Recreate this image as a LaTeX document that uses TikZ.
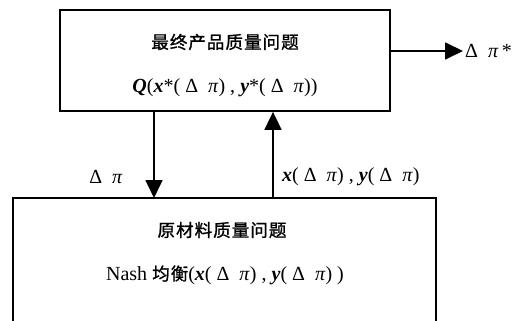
\documentclass[tikz,border=0pt]{standalone}
\usepackage{fontspec}
\setmainfont{Liberation Serif}
\newfontfamily\cjkfam[LetterSpace=6,FakeBold=1.2]{Noto Sans CJK SC}
\newcommand{\cjk}{\cjkfam\fontsize{17.5}{20}\selectfont}
\newcommand{\vb}[1]{\textbf{\textit{#1}}}
\usetikzlibrary{arrows.meta}
\begin{document}
\begin{tikzpicture}[x=1pt,y=-1pt,
  box/.style={draw,line width=1.8pt,inner sep=0pt},
  conn/.style={line width=1.8pt,-{Triangle[length=18pt,width=17pt]}},
  lbl/.style={font=\fontsize{20}{22}\selectfont,inner sep=0pt}]
\useasboundingbox (0,0) rectangle (520,321);
\node[box,minimum width=330pt,minimum height=101pt] (top) at (225,60.5) {};
\draw[line width=1.8pt] (13,340) -- (13,198) -- (436,198) -- (436,340);
\coordinate (botL) at (154,198);
\coordinate (botR) at (273,198);
\coordinate (out) at (463,51);
\node[lbl] (t1) at (225,42) {\cjk 最终产品质量问题};
\node[lbl] (t2) at (225,88) {\vb{Q}(\vb{x}*( Δ\ \ \textit{π}) , \vb{y}*( Δ\ \ \textit{π}))};
\node[lbl] (b1) at (222,230) {\cjk 原材料质量问题};
\node[lbl] (b2) at (225,275) {Nash {\cjk 均衡}(\vb{x}( Δ\ \ \textit{π}) , \vb{y}( Δ\ \ \textit{π}) )};
\draw[conn] (top.south -| botL) -- (botL);
\draw[conn] (botR) -- (top.south -| botR);
\draw[conn] (top.east |- out) -- (out);
\node[lbl,anchor=west] (o) at (465,51) {Δ\ \ \textit{π}\,*};
\node[lbl] (l1) at (106,177) {Δ\ \ \textit{π}};
\node[lbl,anchor=west] (l2) at (282,177) {\vb{x}( Δ\ \ \textit{π}) , \vb{y}( Δ\ \ \textit{π})};
\end{tikzpicture}
\end{document}
